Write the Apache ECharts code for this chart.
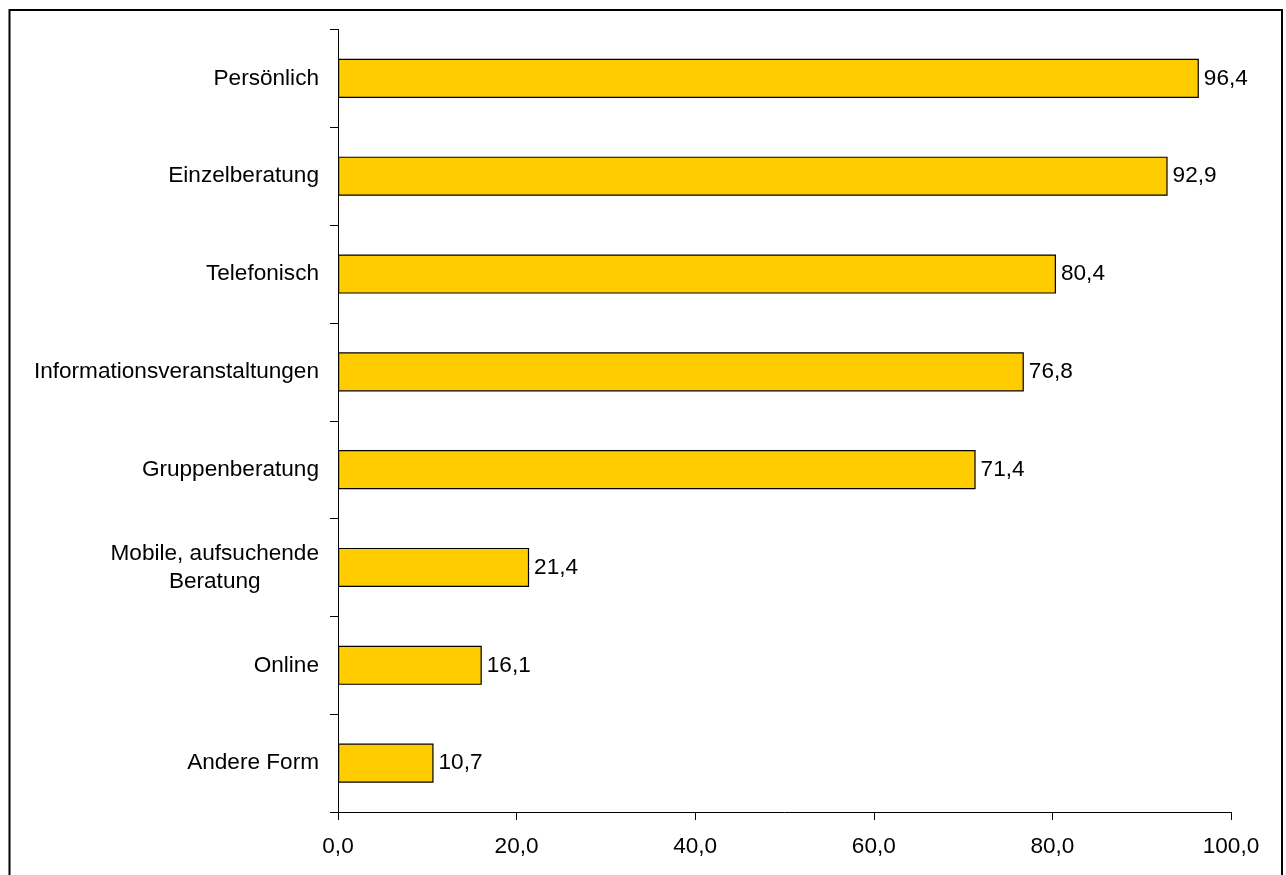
<!DOCTYPE html>
<html>
<head>
<meta charset="utf-8">
<script src="https://cdn.jsdelivr.net/npm/echarts@6/dist/echarts.min.js"></script>
<style>
html,body{margin:0;padding:0;background:#fff;}
#chart{width:1286px;height:875px;}
</style>
</head>
<body>
<div id="chart"></div>
<script>
// Beratungsformen (Anteil in %)
const categories = [
  'Persönlich',
  'Einzelberatung',
  'Telefonisch',
  'Informationsveranstaltungen',
  'Gruppenberatung',
  'Mobile, aufsuchende\nBeratung',
  'Online',
  'Andere Form'
];
const values = [96.4, 92.9, 80.4, 76.8, 71.4, 21.4, 16.1, 10.7];
const xTicks = [0, 20, 40, 60, 80, 100];

const FONT = '"Liberation Sans", Arial, sans-serif';
const FS = 22.6;
const fmt = v => Number(v).toFixed(1).replace('.', ',');

const chart = echarts.init(document.getElementById('chart'));
chart.setOption({
  animation: false,
  backgroundColor: '#fff',
  graphic: [{
    type: 'rect',
    shape: { x: 9.5, y: 10, width: 1272.5, height: 900 },
    style: { fill: 'none', stroke: '#000', lineWidth: 2 },
    silent: true
  }],
  grid: { left: 338, right: 55, top: 29.5, bottom: 63, containLabel: false },
  xAxis: {
    type: 'value',
    min: xTicks[0],
    max: xTicks[xTicks.length - 1],
    interval: xTicks[1] - xTicks[0],
    axisLine: { show: true, lineStyle: { color: '#000', width: 1 } },
    axisTick: { show: true, length: 8, lineStyle: { color: '#000' } },
    splitLine: { show: false },
    axisLabel: {
      margin: 23,
      color: '#000',
      fontSize: FS,
      fontFamily: FONT,
      formatter: fmt
    }
  },
  yAxis: {
    type: 'category',
    inverse: true,
    data: categories,
    axisLine: { show: true, lineStyle: { color: '#000', width: 1 } },
    axisTick: { show: true, length: 8, alignWithLabel: false, lineStyle: { color: '#000' } },
    axisLabel: {
      margin: 19,
      color: '#000',
      fontSize: FS,
      fontFamily: FONT,
      lineHeight: 28,
      formatter: v => v.indexOf('\n') >= 0
        ? v.split('\n').map(s => '{c|' + s + '}').join('\n')
        : v,
      rich: {
        c: { align: 'center', fontSize: FS, fontFamily: FONT, color: '#000', lineHeight: 28 }
      }
    }
  },
  series: [{
    type: 'bar',
    data: values,
    barCategoryGap: '60%',
    itemStyle: { color: '#FFCC00', borderColor: '#000', borderWidth: 1.2 },
    label: {
      show: true,
      position: 'right',
      distance: 5,
      color: '#000',
      fontSize: FS,
      fontFamily: FONT,
      formatter: p => fmt(p.value)
    }
  }]
});
</script>
</body>
</html>
